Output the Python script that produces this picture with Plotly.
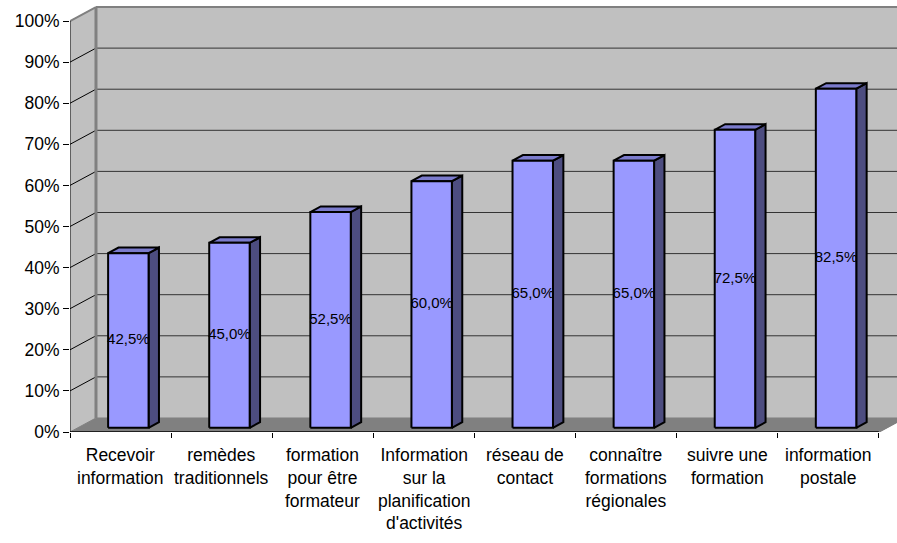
import plotly.graph_objects as go

# Survey results: share of respondents per need
categories = [
    "Recevoir<br>information",
    "remèdes<br>traditionnels",
    "formation<br>pour être<br>formateur",
    "Information<br>sur la<br>planification<br>d'activités",
    "réseau de<br>contact",
    "connaître<br>formations<br>régionales",
    "suivre une<br>formation",
    "information<br>postale",
]
values = [42.5, 45.0, 52.5, 60.0, 65.0, 65.0, 72.5, 82.5]
value_labels = ["42,5%", "45,0%", "52,5%", "60,0%", "65,0%", "65,0%", "72,5%", "82,5%"]
y_ticks = [0, 10, 20, 30, 40, 50, 60, 70, 80, 90, 100]

# 3D projection: full depth offset in axis units
DX = 0.257      # horizontal shift of the back plane (category units)
DY = 3.41       # vertical shift of the back plane (percent units)
X_MAX = 8.18
Y_MAX = 103.9
BAR_W = 0.4     # bar width within a category slot
D0, D1 = 0.3, 0.7  # bar front / back depth fractions

FRONT = "#9999FF"
SIDE = "#4D4D80"
TOP = "#7B7BCC"
WALL = "#C0C0C0"
FLOOR = "#808080"
FONT = "Arial, Liberation Sans, sans-serif"

fig = go.Figure()


def poly(xs, ys, fill, line_color, line_width):
    fig.add_trace(go.Scatter(
        x=xs + [xs[0]], y=ys + [ys[0]], mode="lines", fill="toself",
        fillcolor=fill, line=dict(color=line_color, width=line_width),
        hoverinfo="skip", showlegend=False,
    ))


def seg(x0, y0, x1, y1, color, width):
    fig.add_trace(go.Scatter(
        x=[x0, x1], y=[y0, y1], mode="lines",
        line=dict(color=color, width=width),
        hoverinfo="skip", showlegend=False,
    ))


n = len(categories)

# walls and floor
poly([0, 0, DX, DX], [0, 100, 100 + DY, DY], WALL, WALL, 1)
poly([DX, DX, X_MAX + 1, X_MAX + 1], [DY, 100 + DY, 100 + DY, DY], WALL, WALL, 1)
poly([0, n, n + DX, DX], [0, 0, DY, DY], FLOOR, FLOOR, 1)

# gridlines on back wall and side wall
for v in y_ticks[1:-1]:
    seg(DX, v + DY, X_MAX + 1, v + DY, "#333333", 1)
    seg(0, v, DX, v + DY, "#000000", 1)

# wall borders
seg(DX, DY, DX, 100 + DY, FLOOR, 3)
seg(0, 100, DX, 100 + DY, FLOOR, 2)
seg(DX, 100 + DY, X_MAX + 1, 100 + DY, FLOOR, 2)
seg(n, 0, n + DX, DY, FLOOR, 1.5)

# front axis lines
seg(0, 0, 0, 100, "#000000", 1)
seg(0, 0, n, 0, "#000000", 1.5)

# 3D columns
for i, v in enumerate(values):
    x0 = i + 0.5 - BAR_W / 2 + D0 * DX
    x1 = x0 + BAR_W
    b = D0 * DY
    t = v + D0 * DY
    ddx = (D1 - D0) * DX
    ddy = (D1 - D0) * DY
    poly([x1, x1 + ddx, x1 + ddx, x1], [b, b + ddy, t + ddy, t], SIDE, "#000000", 2)
    poly([x0, x1, x1 + ddx, x0 + ddx], [t, t, t + ddy, t + ddy], TOP, "#000000", 2)
    poly([x0, x1, x1, x0], [b, b, t, t], FRONT, "#000000", 2)

# value labels on the column faces
fig.add_trace(go.Scatter(
    x=[i + 0.5 + D0 * DX for i in range(n)],
    y=[v / 2 + D0 * DY for v in values],
    mode="text", text=value_labels,
    textfont=dict(family=FONT, size=15, color="#000000"),
    hoverinfo="skip", showlegend=False, cliponaxis=False,
))

# category labels under the floor
for i, c in enumerate(categories):
    fig.add_annotation(
        x=i + 0.5, y=0, xref="x", yref="paper", yanchor="top",
        yshift=-11, text=c, showarrow=False, align="center",
        font=dict(family=FONT, size=17.5, color="#000000"),
    )

fig.update_layout(
    width=897, height=543,
    margin=dict(l=70, r=0, t=5, b=111),
    paper_bgcolor="white", plot_bgcolor="white",
    xaxis=dict(
        range=[0, X_MAX], showgrid=False, zeroline=False, showline=False,
        showticklabels=False, tickvals=list(range(n + 1)),
        ticks="outside", ticklen=5, tickcolor="#000000", tickwidth=1,
    ),
    yaxis=dict(
        range=[0, Y_MAX], showgrid=False, zeroline=False, showline=False,
        tickvals=y_ticks, ticktext=[f"{t}%" for t in y_ticks],
        ticks="outside", ticklen=6, tickcolor="#000000", tickwidth=1,
        tickfont=dict(family=FONT, size=17.5, color="#000000"),
    ),
)

fig.write_html("out.html")
